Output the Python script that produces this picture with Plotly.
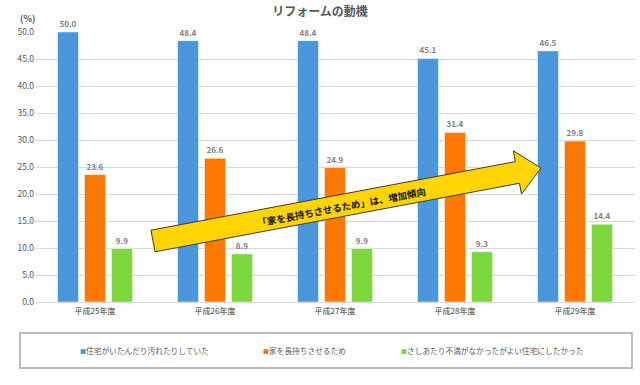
import plotly.graph_objects as go
import math

categories = ["平成25年度", "平成26年度", "平成27年度", "平成28年度", "平成29年度"]
series_names = ["住宅がいたんだり汚れたりしていた", "家を長持ちさせるため", "さしあたり不満がなかったがよい住宅にしたかった"]
s1 = [50.0, 48.4, 48.4, 45.1, 46.5]
s2 = [23.6, 26.6, 24.9, 31.4, 29.8]
s3 = [9.9, 8.9, 9.9, 9.3, 14.4]
colors = ["#4A98DB", "#FF7800", "#7ED63D"]
title_text = "リフォームの動機"
arrow_text = "「家を長持ちさせるため」は、増加傾向"

FONT = "Noto Sans CJK JP"
W, H = 640, 385
L, R, T, B = 35, 5, 32, 83
PW, PH = W - L - R, H - T - B

def px(x):
    return (x - L) / PW

def py(y):
    return (H - B - y) / PH

fig = go.Figure()
for name, vals, col in zip(series_names, [s1, s2, s3], colors):
    fig.add_trace(go.Bar(
        x=categories, y=vals, name=name,
        marker=dict(color=col, line=dict(color="white", width=0.5)),
        text=vals, texttemplate="<b>%{y:.1f}</b>", textposition="outside",
        textfont=dict(size=8, color="#7F7F7F", family=FONT),
        cliponaxis=False, showlegend=False,
    ))

# arrow geometry (pixel space -> paper)
S = (153, 241)
Tp = (541, 168)
dx, dy = Tp[0] - S[0], Tp[1] - S[1]
ln = math.hypot(dx, dy)
u = (dx / ln, dy / ln)
n = (-u[1], u[0])
h, Hh, Lh = 11, 22, 24
Bp = (Tp[0] - u[0] * Lh, Tp[1] - u[1] * Lh)
pts = [
    (S[0] - n[0] * h, S[1] - n[1] * h),
    (Bp[0] - n[0] * h, Bp[1] - n[1] * h),
    (Bp[0] - n[0] * Hh, Bp[1] - n[1] * Hh),
    Tp,
    (Bp[0] + n[0] * Hh, Bp[1] + n[1] * Hh),
    (Bp[0] + n[0] * h, Bp[1] + n[1] * h),
    (S[0] + n[0] * h, S[1] + n[1] * h),
]
path = "M " + " L ".join(f"{px(a):.5f},{py(b):.5f}" for a, b in pts) + " Z"
fig.add_shape(type="path", path=path, xref="paper", yref="paper",
              fillcolor="#FFD500", line=dict(color="#3A3A3A", width=1), layer="above")
angle = math.degrees(math.atan2(dy, dx))
fig.add_annotation(x=px(341), y=py(207), xref="paper", yref="paper",
                   xanchor="center", yanchor="middle",
                   text="<b>" + arrow_text + "</b>", showarrow=False, textangle=angle,
                   font=dict(size=9.5, color="#111111", family=FONT))

# legend box
fig.add_shape(type="rect", xref="paper", yref="paper",
              x0=px(20), x1=px(632), y0=py(368), y1=py(333),
              line=dict(color="#A6A6A6", width=1.5), fillcolor="rgba(0,0,0,0)")
leg_x = [78, 261, 399]
for name, col, lx in zip(series_names, colors, leg_x):
    fig.add_annotation(x=px(lx), y=py(350), xref="paper", yref="paper",
                       xanchor="left", yanchor="middle",
                       text=f"<span style='color:{col};font-size:6px'>■</span>{name}", showarrow=False,
                       font=dict(size=7.7, color="#595959", family=FONT))

fig.add_annotation(x=px(27), y=py(18), xref="paper", yref="paper",
                   xanchor="center", yanchor="middle",
                   text="<b>(%)</b>", showarrow=False,
                   font=dict(size=9, color="#595959", family=FONT))

fig.update_layout(
    width=W, height=H,
    margin=dict(l=L, r=R, t=T, b=B, autoexpand=False),
    paper_bgcolor="white", plot_bgcolor="white",
    barmode="group", bargap=0.325, bargroupgap=0.22,
    title=dict(text="<b>" + title_text + "</b>", x=0.5, xanchor="center",
               y=1 - 12 / H, yanchor="middle",
               font=dict(size=12, color="#595959", family=FONT)),
    font=dict(family=FONT),
    xaxis=dict(showgrid=False, showline=False, ticks="", automargin=False,
               ticklabelstandoff=3,
               tickfont=dict(size=8, color="#404040", family=FONT)),
    yaxis=dict(range=[0, 50], dtick=5, tickformat=".1f", showgrid=True, automargin=False,
               gridcolor="#D9D9D9", gridwidth=1, zeroline=True, zerolinecolor="#D9D9D9",
               zerolinewidth=1, showline=False, ticks="",
               tickfont=dict(size=8.5, color="#595959", family=FONT)),
)

fig.write_html("out.html", config={"displayModeBar": False},
               post_script="document.body.style.margin='0';document.body.style.overflow='hidden';")
